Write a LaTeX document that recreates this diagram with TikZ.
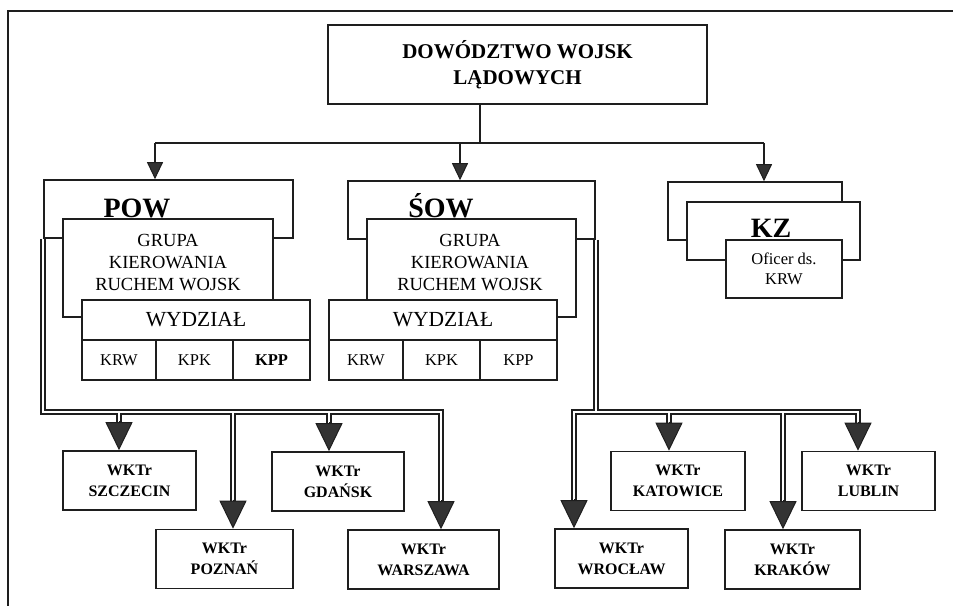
\documentclass[tikz,border=0pt]{standalone}
\usepackage{fontspec}
\setmainfont{Liberation Serif}
\usetikzlibrary{arrows.meta,calc,backgrounds}
\definecolor{ink}{HTML}{1E1E1E}
\definecolor{tipfill}{HTML}{333333}
\begin{document}
\begin{tikzpicture}[x=1pt,y=-1pt,
  box/.style={draw=ink,line width=1.6pt,fill=white,inner sep=0pt,align=center},
  wk/.style={box,minimum height=59pt,font=\fontsize{16}{21}\selectfont\bfseries},
  cell/.style={box,minimum height=40pt,font=\fontsize{16.5}{17}\selectfont},
  wyd/.style={box,minimum height=40pt,minimum width=228pt,font=\fontsize{21.5}{24}\selectfont},
  grp/.style={inner sep=0pt,align=center,font=\fontsize{18.5}{22}\selectfont},
  biglbl/.style={inner sep=0pt,anchor=base,font=\fontsize{28}{28}\selectfont\bfseries},
  conline/.style={draw=ink,line width=1.5pt},
  smallarr/.style={draw=ink,line width=1.5pt,-{Triangle[width=16pt,length=17pt,fill=tipfill,line width=1pt]}},
  bigarr/.style={draw=ink,line width=1pt,-{Triangle[width=27pt,length=28pt,fill=tipfill,line width=1pt]}},
  dblout/.style={draw=ink,line width=5.6pt,line join=miter},
  dblin/.style={draw=white,line width=2pt,line join=miter},
  frame/.style={draw=ink,line width=1.4pt}
]
\useasboundingbox (0,0) rectangle (953,606);
\draw[frame] (953,11) -- (8,11) -- (8,606);

% top box
\node[box,minimum width=379pt,minimum height=79pt,font=\fontsize{21}{26}\selectfont\bfseries] (dwl) at (517.5,64.5) {DOWÓDZTWO WOJSK\\LĄDOWYCH};

% POW
\node[box,minimum width=249pt,minimum height=58pt] (powout) at (168.5,209) {};
\node[biglbl] (powlbl) at (137,217) {POW};
\node[box,minimum width=210pt,minimum height=98pt] (powmid) at (168,268) {};
\node[grp] (powgrp) at (168,263) {GRUPA\\KIEROWANIA\\RUCHEM WOJSK};
\node[wyd] (powwyd) at (196,320) {WYDZIAŁ};
\node[cell,minimum width=74pt] (powkrw) at (119,360) {KRW};
\node[cell,minimum width=77pt] (powkpk) at (194.5,360) {KPK};
\node[cell,minimum width=77pt,font=\fontsize{16.5}{17}\selectfont\bfseries] (powkpp) at (271.5,360) {KPP};

% SOW
\node[box,minimum width=247pt,minimum height=58pt] (sowout) at (471.5,210) {};
\node[biglbl] (sowlbl) at (441,217) {ŚOW};
\node[box,minimum width=209pt,minimum height=98pt] (sowmid) at (471.5,268) {};
\node[grp] (sowgrp) at (470,263) {GRUPA\\KIEROWANIA\\RUCHEM WOJSK};
\node[wyd] (sowwyd) at (443,320) {WYDZIAŁ};
\node[cell,minimum width=74pt] (sowkrw) at (366,360) {KRW};
\node[cell,minimum width=77pt] (sowkpk) at (441.5,360) {KPK};
\node[cell,minimum width=77pt] (sowkpp) at (518.5,360) {KPP};

% KZ
\node[box,minimum width=174pt,minimum height=58pt] (kzout) at (755,211) {};
\node[box,minimum width=173pt,minimum height=58pt] (kzmid) at (773.5,231) {};
\node[biglbl] (kzlbl) at (771,237) {KZ};
\node[box,minimum width=116pt,minimum height=58pt,font=\fontsize{16.5}{20}\selectfont] (kzoff) at (784,269) {Oficer ds.\\KRW};

% WKTr boxes
\node[wk,minimum width=133pt] (szczecin) at (129.5,480.5) {WKTr\\SZCZECIN};
\node[wk,minimum width=137pt] (poznan) at (224.5,559) {WKTr\\POZNAŃ};
\node[wk,minimum width=132pt] (gdansk) at (338,481.5) {WKTr\\GDAŃSK};
\node[wk,minimum width=151pt] (warszawa) at (423.5,559.5) {WKTr\\WARSZAWA};
\node[wk,minimum width=133pt] (wroclaw) at (621.5,558.5) {WKTr\\WROCŁAW};
\node[wk,minimum width=134pt] (katowice) at (678,481) {WKTr\\KATOWICE};
\node[wk,minimum width=135pt] (krakow) at (792.5,559.5) {WKTr\\KRAKÓW};
\node[wk,minimum width=133pt] (lublin) at (868.5,481) {WKTr\\LUBLIN};

% coordinates of connectors
\coordinate (split) at (480,143);
\coordinate (aPOW) at (155,143);
\coordinate (aSOW) at (460,143);
\coordinate (aKZ) at (764,143);

\coordinate (jSz) at (119,412);
\coordinate (jPo) at (233,412);
\coordinate (jGd) at (329,412);
\coordinate (jWa) at (441,412);
\coordinate (jWr) at (574,412);
\coordinate (jKa) at (669,412);
\coordinate (jKr) at (783,412);
\coordinate (jLu) at (858,412);

\foreach \j/\b in {Sz/szczecin,Po/poznan,Gd/gdansk,Wa/warszawa,Wr/wroclaw,Ka/katowice,Kr/krakow,Lu/lublin}{
  \coordinate (t\j) at (j\j |- \b.north);
  \coordinate (b\j) at ($(t\j)+(0,-26)$);
  \coordinate (s\j) at ($(t\j)+(0,-29)$);
}

\newcommand\DblRoutes{(powout.south west) -- (powout.south west |- jWa) -- (jWa) -- (bWa)
  (jSz) -- (bSz) (jPo) -- (bPo) (jGd) -- (bGd)
  (sowout.south east) -- (sowout.south east |- jWr)
  (bWr) -- (jWr) -- (jLu) -- (bLu)
  (jKa) -- (bKa) (jKr) -- (bKr)}

\begin{pgfonlayer}{background}
  \draw[conline] (dwl.south -| split) -- (split);
  \draw[conline] (aPOW) -- (aKZ);
  \draw[smallarr] (aPOW) -- (aPOW |- powout.north);
  \draw[smallarr] (aSOW) -- (aSOW |- sowout.north);
  \draw[smallarr] (aKZ) -- (aKZ |- kzout.north);
  \draw[dblout] \DblRoutes;
  \draw[dblin] \DblRoutes;
  \foreach \j in {Sz,Po,Gd,Wa,Wr,Ka,Kr,Lu}{
    \draw[bigarr] (s\j) -- (t\j);
  }
\end{pgfonlayer}
\end{tikzpicture}
\end{document}
